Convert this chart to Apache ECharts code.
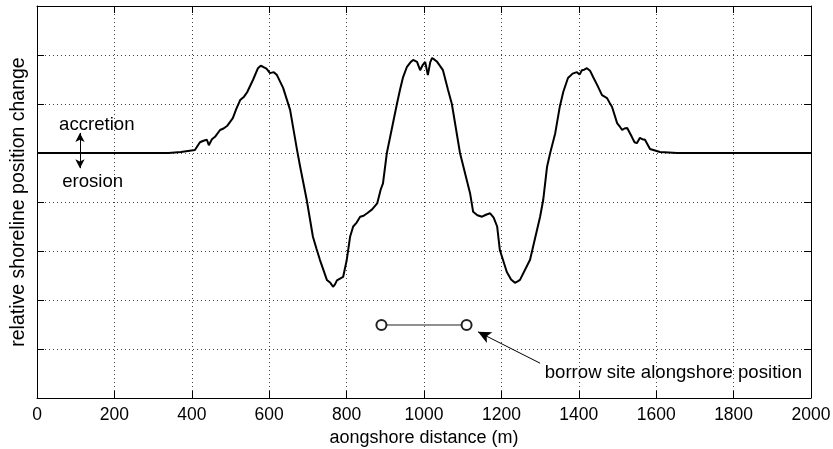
<!DOCTYPE html>
<html>
<head>
<meta charset="utf-8">
<script src="https://cdn.jsdelivr.net/npm/echarts@6/dist/echarts.min.js"></script>
<style>
html,body{margin:0;padding:0;background:#fff;}
#chart{width:833px;height:449px;}
</style>
</head>
<body>
<div id="chart"></div>
<script>
// alongshore distance (m) and relative shoreline change (arbitrary units)
const distance = [0, 340, 372, 408, 421, 430, 439, 444, 452, 460, 473, 482, 491, 506, 515, 525, 535, 543, 558, 571, 578, 584, 593, 602, 612, 620, 636, 654, 672, 680, 697, 713, 722, 731, 749, 758, 765, 770, 775, 791, 800, 809, 817, 826, 835, 844, 853, 866, 879, 888, 894, 904, 930, 938, 946, 956, 965, 972, 982, 990, 997, 1003, 1010, 1016, 1021, 1028, 1034, 1049, 1062, 1072, 1093, 1119, 1127, 1138, 1150, 1160, 1171, 1180, 1189, 1196, 1214, 1225, 1235, 1242, 1248, 1274, 1300, 1308, 1318, 1326, 1339, 1351, 1360, 1372, 1384, 1395, 1402, 1408, 1414, 1421, 1429, 1437, 1448, 1460, 1473, 1480, 1486, 1499, 1505, 1512, 1518, 1525, 1537, 1544, 1550, 1558, 1564, 1571, 1584, 1610, 1654, 2000];
const change   = [0, 0, 0.02, 0.06, 0.22, 0.25, 0.27, 0.16, 0.28, 0.33, 0.47, 0.5, 0.55, 0.71, 0.9, 1.08, 1.15, 1.24, 1.49, 1.73, 1.78, 1.76, 1.72, 1.63, 1.65, 1.59, 1.33, 0.88, 0.06, -0.28, -0.96, -1.71, -1.95, -2.18, -2.59, -2.65, -2.73, -2.68, -2.6, -2.53, -2.2, -1.71, -1.5, -1.42, -1.3, -1.28, -1.23, -1.15, -1.03, -0.75, -0.62, 0, 1.0, 1.29, 1.55, 1.76, 1.85, 1.9, 1.86, 1.69, 1.8, 1.86, 1.59, 1.85, 1.94, 1.9, 1.86, 1.69, 1.29, 1.0, 0, -0.82, -1.2, -1.27, -1.3, -1.26, -1.23, -1.32, -1.5, -1.98, -2.43, -2.58, -2.65, -2.62, -2.59, -2.18, -1.3, -0.96, -0.28, 0, 0.4, 0.95, 1.25, 1.53, 1.62, 1.65, 1.6, 1.69, 1.7, 1.73, 1.68, 1.55, 1.38, 1.18, 1.12, 1.02, 0.94, 0.61, 0.55, 0.47, 0.5, 0.51, 0.33, 0.22, 0.2, 0.31, 0.28, 0.27, 0.08, 0.02, 0, 0];

// borrow site extent
const borrowSite = [890, 1110];
const borrowLevel = -3.51;

const xTicks = [0, 200, 400, 600, 800, 1000, 1200, 1400, 1600, 1800, 2000];

const annotations = [
  {text: 'accretion', pos: [57, 0.57]},
  {text: 'erosion', pos: [65, -0.59]},
  {text: 'borrow site alongshore position', pos: [1312, -4.49]}
];
const borrowArrow = [[1300, -4.29], [1139.5, -3.65]];
const accretionArrow = [[111, 0.41], [111, -0.31]];

const FONT = '"Liberation Sans", Arial, Helvetica, sans-serif';

const chart = echarts.init(document.getElementById('chart'), null, {renderer: 'canvas'});

const gridLine = {show: true, lineStyle: {color: '#444', width: 1, type: [1, 3]}};
const frame = {show: true, onZero: false, lineStyle: {color: '#000', width: 1}};
const tick = {show: true, inside: true, length: 7, lineStyle: {color: '#000', width: 1}};

chart.setOption({
  animation: false,
  backgroundColor: '#fff',
  grid: {left: 37, right: 22, top: 6, bottom: 51, containLabel: false, outerBoundsMode: 'none'},
  xAxis: [
    {
      type: 'value', min: xTicks[0], max: xTicks[xTicks.length - 1], interval: 200,
      position: 'bottom',
      name: 'aongshore distance (m)', nameLocation: 'middle', nameGap: 31,
      nameTextStyle: {color: '#000', fontSize: 18, fontFamily: FONT},
      axisLine: frame, axisTick: tick, splitLine: gridLine,
      axisLabel: {color: '#000', fontSize: 17.5, fontFamily: FONT, margin: 8, formatter: v => String(v)}
    },
    {
      type: 'value', min: xTicks[0], max: xTicks[xTicks.length - 1], interval: 200,
      position: 'top',
      axisLine: frame, axisTick: tick, splitLine: {show: false}, axisLabel: {show: false}
    }
  ],
  yAxis: [
    {
      type: 'value', min: -5, max: 3, interval: 1, position: 'left',
      name: 'relative shoreline position change', nameLocation: 'middle', nameGap: 8,
      nameTextStyle: {color: '#000', fontSize: 19.5, fontFamily: FONT},
      axisLine: frame, axisTick: tick, splitLine: gridLine, axisLabel: {show: false}
    },
    {
      type: 'value', min: -5, max: 3, interval: 1, position: 'right',
      axisLine: frame, axisTick: tick, splitLine: {show: false}, axisLabel: {show: false}
    }
  ],
  series: [
    {
      type: 'line', name: 'shoreline', xAxisIndex: 0, yAxisIndex: 0,
      data: distance.map((d, i) => [d, change[i]]),
      showSymbol: false, symbol: 'none',
      lineStyle: {color: '#000', width: 2},
      z: 5
    },
    {
      type: 'line', name: 'borrow',
      data: borrowSite.map(d => [d, borrowLevel]),
      symbol: 'emptyCircle', symbolSize: 10, showSymbol: true,
      itemStyle: {color: '#222', borderColor: '#222', borderWidth: 1},
      lineStyle: {color: '#222', width: 1},
      markLine: {
        silent: true,
        symbol: ['none', 'arrow'],
        symbolSize: [9, 13],
        label: {show: false},
        lineStyle: {color: '#000', width: 1, type: 'solid'},
        data: [
          [{coord: borrowArrow[0]}, {coord: borrowArrow[1]}],
          [{coord: accretionArrow[0], symbol: 'arrow', symbolSize: [7, 9]},
           {coord: accretionArrow[1], symbol: 'arrow', symbolSize: [7, 9]}]
        ]
      },
      z: 6
    },
    {
      type: 'scatter', name: 'text',
      data: annotations.map(a => ({value: a.pos, name: a.text})),
      symbolSize: 0,
      itemStyle: {opacity: 1},
      label: {
        show: true, position: 'inside', align: 'left', verticalAlign: 'middle',
        formatter: p => p.name,
        color: '#000', fontSize: 18.6, fontFamily: FONT, textBorderWidth: 0
      },
      silent: true, z: 7
    }
  ]
});
</script>
</body>
</html>
